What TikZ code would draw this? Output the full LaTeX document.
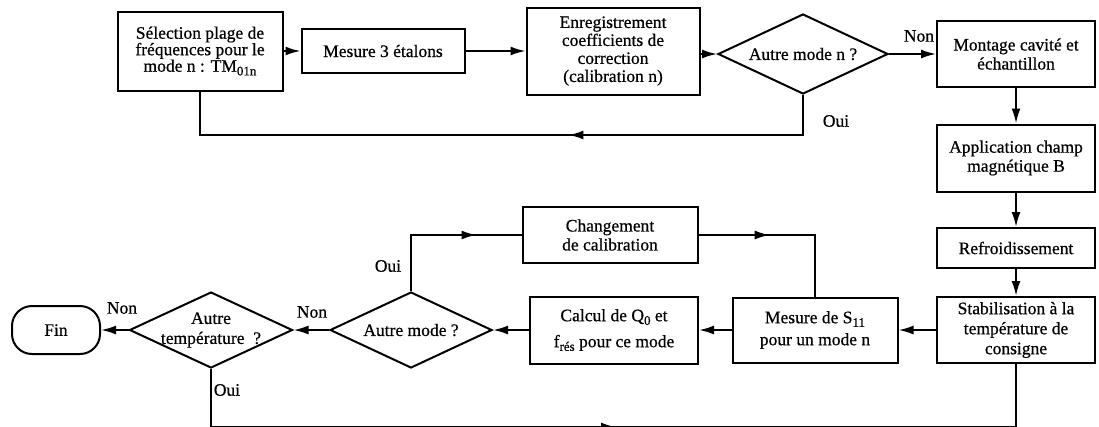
\documentclass[tikz,border=0pt]{standalone}
\usepackage{fontspec}
\setmainfont{Liberation Serif}[FakeBold=0.6]
\usetikzlibrary{shapes.geometric,arrows.meta,decorations.markings}
\newcommand\lowsub[1]{\raisebox{-0.45ex}{\fontsize{13}{13}\selectfont #1}}
\begin{document}
\begin{tikzpicture}[x=1pt,y=-1pt,
  every node/.style={font=\fontsize{17.5}{19}\selectfont},
  box/.style={draw,line width=2pt,align=center,inner sep=0pt},
  dia/.style={draw,diamond,line width=2pt,inner sep=0pt},
  tip/.style={-{Latex[length=15pt,width=9pt]}},
  conn/.style={line width=2pt,tip},
  loopline/.style={line width=2pt,postaction={decorate},
    decoration={markings,mark=at position #1 with {\arrow{Latex[length=15pt,width=9pt]}}}},
  lab/.style={inner sep=0pt}]
\fill[white] (0,0) rectangle (1099,426);
\useasboundingbox (0,0) rectangle (1099,426);
% top row
\node[box,minimum width=165pt,minimum height=79pt,font=\fontsize{17.5}{16.5}\selectfont] (b1) at (200,51)
  {Sélection plage de\\fréquences pour le\\mode n : TM\lowsub{01n}};
\node[box,minimum width=163pt,minimum height=44pt] (b2) at (383,51) {Mesure 3 étalons};
\node[box,minimum width=173pt,minimum height=87pt,font=\fontsize{17.5}{18}\selectfont] (b3) at (613,51)
  {Enregistrement\\coefficients de\\correction\\(calibration n)};
\node[dia,minimum width=170pt,minimum height=80pt,label={center:Autre mode n ?}] (d1) at (803,54) {};
\node[box,minimum width=158pt,minimum height=66pt] (b4) at (1016,54) {Montage cavité et\\échantillon};
% right column
\node[box,minimum width=158pt,minimum height=67pt] (b5) at (1016,158) {Application champ\\magnétique B};
\node[box,minimum width=158pt,minimum height=40pt] (b6) at (1016,248) {Refroidissement};
\node[box,minimum width=158pt,minimum height=66pt,font=\fontsize{17.5}{20}\selectfont] (b7) at (1016,330)
  {Stabilisation à la\\température de\\consigne};
% bottom row
\node[box,minimum width=165pt,minimum height=65pt,font=\fontsize{17.5}{22}\selectfont] (b8) at (815,330)
  {Mesure de S\lowsub{11}\\pour un mode n};
\node[box,minimum width=168pt,minimum height=67pt,font=\fontsize{17.5}{26}\selectfont] (b10) at (614,330)
  {Calcul de Q\lowsub{0} et\\f\lowsub{rés} pour ce mode};
\node[box,minimum width=175pt,minimum height=56pt] (b9) at (610,235) {Changement\\de calibration};
\node[dia,minimum width=162pt,minimum height=76pt,label={center:Autre mode ?}] (d2) at (411,330) {};
\node[dia,minimum width=163pt,minimum height=76pt,
  label={[align=center,font=\fontsize{17.5}{20}\selectfont]center:Autre\\température~~?}] (d3) at (211,330) {};
\node[box,rounded corners=20pt,minimum width=88pt,minimum height=48pt] (fin) at (56,330) {Fin};
% connectors
\draw[conn] (b1.east) -- (b2.west);
\draw[conn] (b2.east) -- (b3.west);
\draw[conn] (b3.east |- d1.west) -- (d1.west);
\draw[conn] (d1.east) -- (b4.west);
\draw[conn] (b4.south) -- (b5.north);
\draw[conn] (b5.south) -- (b6.north);
\draw[conn] (b6.south) -- (b7.north);
\draw[conn] (b7.west) -- (b8.east);
\draw[conn] (b8.west) -- (b10.east);
\draw[conn] (b10.west) -- (d2.east);
\draw[conn] (d2.west) -- (d3.east);
\draw[conn] (d3.west) -- (fin.east);
\draw[loopline=0.4] (d1.south) -- ++(0,40) -| (b1.south);
\draw[loopline=0.73] (d2.north) |- (b9.west);
\draw[loopline=0.4] (b9.east) -| (b8.north);
\draw[loopline=0.5] (d3.south) -- ++(0,58) -| (b7.south);
% labels
\node[lab] at (919,36) {Non};
\node[lab] at (836,121) {Oui};
\node[lab] at (388,266) {Oui};
\node[lab] at (312,312) {Non};
\node[lab] at (122,308) {Non};
\node[lab] at (227,390) {Oui};
\end{tikzpicture}
\end{document}
